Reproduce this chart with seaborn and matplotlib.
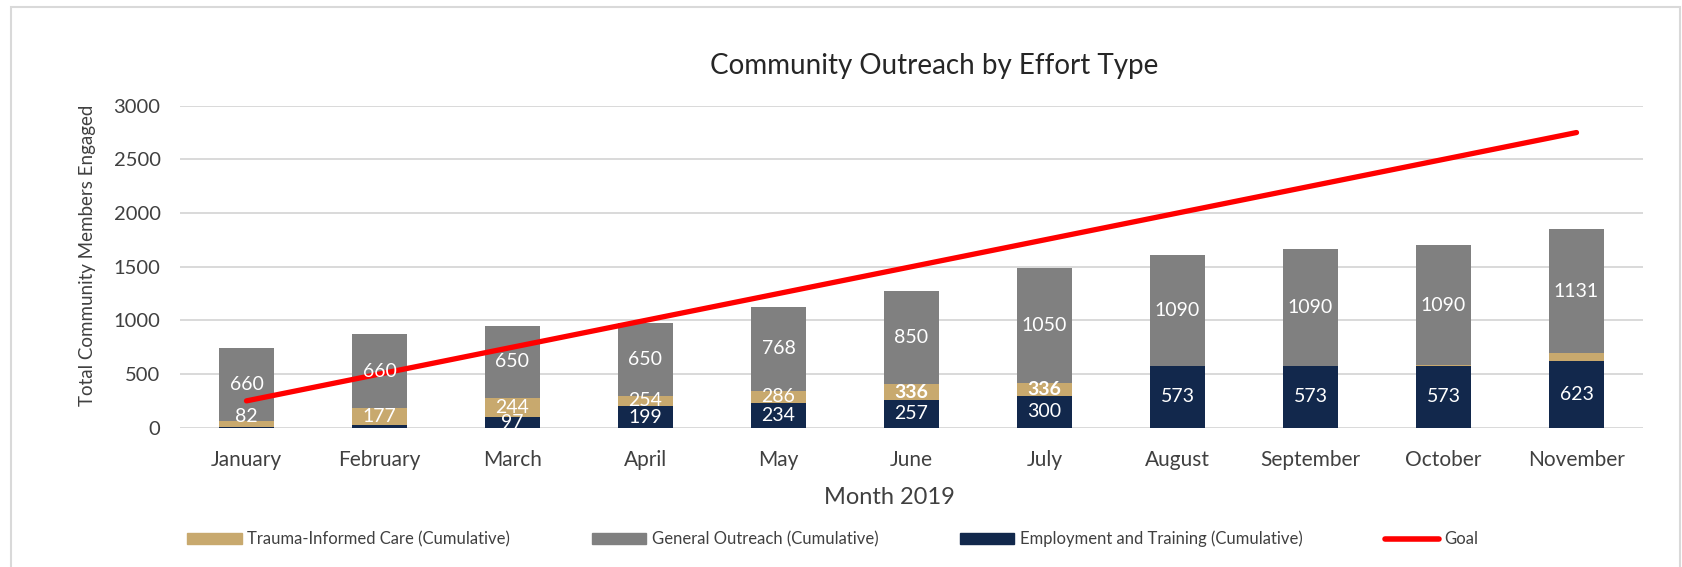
import numpy as np
import matplotlib
matplotlib.use("Agg")
import matplotlib.pyplot as plt
from matplotlib.patches import Patch, Rectangle
from matplotlib.lines import Line2D
import seaborn as sns

# ----------------------------------------------------------
# DATA (segment heights, labels as printed)
# ----------------------------------------------------------

months = ["January", "February", "March", "April", "May", "June",
          "July", "August", "September", "October", "November"]

employment = [8, 25, 97, 199, 234, 257, 300, 573, 573, 573, 623]
trauma = [51, 156, 178, 101, 109, 146, 112, 0, 0, 8, 74]
general = [685, 689, 675, 673, 782, 868, 1075, 1036, 1093, 1122, 1153]
goal = [250, 500, 750, 1000, 1250, 1500, 1750, 2000, 2250, 2500, 2750]

employment_labels = [None, None, 97, 199, 234, 257, 300, 573, 573, 573, 623]
trauma_labels = [82, 177, 244, 254, 286, 336, 336, None, None, None, None]
general_labels = [660, 660, 650, 650, 768, 850, 1050, 1090, 1090, 1090, 1131]

# ----------------------------------------------------------
# STYLE
# ----------------------------------------------------------

sns.set_theme(style="white")
plt.rcParams["font.family"] = ["Lato", "DejaVu Sans"]

TAN = "#C8A96E"
GRAY = "#808080"
NAVY = "#12284C"
RED = "#FF0000"
TEXT = "#404040"

W, H = 1683, 567
fig = plt.figure(figsize=(W / 100, H / 100), dpi=100)
ax = fig.add_axes([180 / W, 1 - 427.7 / H, (1643 - 180) / W, (427.7 - 105.7) / H])

# ----------------------------------------------------------
# STACKED BARS (layered cumulative totals)
# ----------------------------------------------------------

emp = np.array(employment)
low = emp + np.array(trauma)
top = low + np.array(general)

bar_kw = dict(width=0.42, saturation=1, errorbar=None, linewidth=0, ax=ax)
sns.barplot(x=months, y=top, color=GRAY, **bar_kw)
sns.barplot(x=months, y=low, color=TAN, **bar_kw)
sns.barplot(x=months, y=emp, color=NAVY, **bar_kw)

sns.lineplot(x=months, y=goal, color=RED, linewidth=3.8, sort=False,
             solid_capstyle="round", ax=ax)

# value labels
for i in range(len(months)):
    if employment_labels[i] is not None:
        ax.text(i, emp[i] / 2, str(employment_labels[i]), ha="center",
                va="center", color="white", fontsize=14)
    if trauma_labels[i] is not None:
        y = max((emp[i] + low[i]) / 2, 100)
        ax.text(i, y, str(trauma_labels[i]), ha="center", va="center",
                color="white", fontsize=14,
                fontweight="bold" if i in (5, 6) else "normal")
    ax.text(i, (low[i] + top[i]) / 2, str(general_labels[i]), ha="center",
            va="center", color="white", fontsize=14)

# ----------------------------------------------------------
# AXES
# ----------------------------------------------------------

ax.set_xlim(-0.5, len(months) - 0.5)
ax.set_ylim(0, 3000)
ax.set_yticks(range(0, 3001, 500))
ax.grid(axis="y", color="#D9D9D9", linewidth=1.4)
ax.set_axisbelow(True)
for s in ax.spines.values():
    s.set_visible(False)
ax.tick_params(axis="both", length=0, labelcolor=TEXT)
ax.tick_params(axis="y", pad=14, labelsize=14.5)
ax.tick_params(axis="x", pad=16, labelsize=15)

ax.set_xlabel("Month 2019", fontsize=17, color=TEXT)
ax.xaxis.label.set_va("center")
ax.xaxis.set_label_coords((889 - 180) / 1463, (427.7 - 497) / 322)
ax.set_ylabel("Total Community Members Engaged", fontsize=13.5, color=TEXT)
ax.yaxis.label.set_va("center")
ax.yaxis.set_label_coords((88 - 180) / 1463, (427.7 - 255) / 322)

ax.text((934 - 180) / 1463, (427.7 - 66) / 322, "Community Outreach by Effort Type",
        transform=ax.transAxes, ha="center", va="center", fontsize=20,
        color="#262626")

# ----------------------------------------------------------
# LEGEND + FRAME
# ----------------------------------------------------------

handles = [Patch(color=TAN), Patch(color=GRAY), Patch(color=NAVY),
           Line2D([0], [0], color=RED, linewidth=4)]
labels = ["Trauma-Informed Care (Cumulative)", "General Outreach (Cumulative)",
          "Employment and Training (Cumulative)", "Goal"]
fig.legend(handles, labels, loc="center", bbox_to_anchor=(833 / W, 1 - 539 / H),
           ncol=4, frameon=False, fontsize=12, handlelength=3.25,
           handleheight=0.57, handletextpad=0.35, columnspacing=4.9,
           labelcolor=TEXT)

fig.patches.append(Rectangle((11 / W, -0.01), (1680 - 11) / W, 1 - 7 / H + 0.01,
                             transform=fig.transFigure, fill=False,
                             edgecolor="#D9D9D9", linewidth=1.5))

fig.savefig("out.png", dpi=100)
